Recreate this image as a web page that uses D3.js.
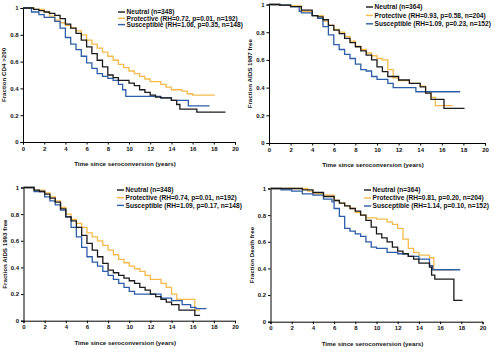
<!DOCTYPE html>
<html>
<head>
<meta charset="utf-8">
<script src="https://cdn.jsdelivr.net/npm/d3@7"></script>
<style>
  body { margin: 0; background: #fff; }
  svg { display: block; font-family: "Liberation Sans", Arial, sans-serif; font-weight: bold; }
</style>
</head>
<body>
<svg width="494" height="348"></svg>
<script>
// series: [years, fraction] breakpoints
const cd4Neutral = [[0,1],[1,0.99],[1.5,0.98],[2,0.97],[2.5,0.96],[3,0.945],[3.5,0.92],[4,0.88],[4.5,0.85],[5,0.81],[5.5,0.76],[6,0.71],[6.5,0.66],[7,0.61],[7.5,0.56],[8,0.5],[8.5,0.48],[9,0.46],[10,0.44],[10.5,0.42],[11,0.39],[11.5,0.37],[12,0.35],[12.5,0.335],[13,0.33],[14,0.31],[14.5,0.28],[14.8,0.245],[16.4,0.223],[19.1,0.223]];
const cd4Protective = [[0,1],[1,0.99],[2,0.97],[2.5,0.94],[3,0.91],[3.5,0.89],[4,0.87],[4.5,0.85],[5,0.83],[5.5,0.8],[6,0.76],[6.5,0.73],[7,0.7],[7.5,0.67],[8,0.64],[8.5,0.61],[9,0.58],[9.5,0.555],[10,0.53],[10.5,0.51],[11,0.49],[11.5,0.47],[12,0.45],[13,0.43],[13.5,0.41],[14,0.39],[15,0.38],[15.5,0.36],[16,0.35],[18.1,0.35]];
const cd4Susceptible = [[0,1],[0.8,0.97],[1.5,0.95],[2,0.93],[3,0.9],[3.5,0.85],[4,0.78],[4.5,0.73],[5,0.69],[5.5,0.64],[6,0.59],[6.5,0.55],[7,0.51],[7.5,0.49],[8,0.475],[8.5,0.46],[9,0.43],[9.4,0.39],[9.7,0.34],[12.5,0.34],[13,0.33],[14,0.31],[15.6,0.31],[15.6,0.27],[17.6,0.27]];

const a87Neutral = [[0,1],[1,0.995],[2,0.985],[3,0.96],[4,0.92],[4.5,0.91],[5,0.89],[5.5,0.85],[6,0.815],[6.5,0.79],[7,0.755],[7.5,0.725],[8,0.695],[8.5,0.665],[9,0.635],[9.5,0.6],[10,0.55],[10.5,0.515],[11,0.48],[12,0.455],[13,0.43],[14,0.405],[14.5,0.36],[15,0.315],[16.2,0.25],[18.1,0.25]];
const a87Protective = [[0,1],[1,0.995],[2,0.99],[3,0.95],[4,0.92],[5,0.88],[5.5,0.85],[6,0.82],[6.5,0.8],[7,0.77],[7.5,0.735],[8,0.7],[8.5,0.675],[9,0.65],[9.5,0.63],[10,0.61],[10.5,0.6],[11,0.53],[11.5,0.47],[12,0.45],[13,0.43],[14,0.41],[14.5,0.37],[15,0.33],[15.4,0.27],[17,0.27]];
const a87Susceptible = [[0,1],[1,0.995],[2,0.985],[2.8,0.95],[3,0.94],[4,0.92],[4.5,0.9],[5,0.84],[5.5,0.78],[6,0.71],[6.5,0.675],[7,0.64],[7.5,0.61],[8,0.57],[8.5,0.53],[9,0.52],[9.5,0.48],[10,0.46],[11,0.43],[11.5,0.4],[13.6,0.4],[13.6,0.37],[17.7,0.37]];

const a93Neutral = [[0,1],[1,0.98],[1.5,0.97],[2,0.95],[2.5,0.92],[3,0.89],[3.5,0.84],[4,0.78],[4.5,0.75],[5,0.7],[5.5,0.64],[6,0.58],[6.5,0.53],[7,0.48],[7.5,0.43],[8,0.38],[8.5,0.36],[9,0.34],[9.5,0.32],[10,0.3],[10.5,0.28],[11,0.25],[11.5,0.23],[12,0.2],[12.5,0.18],[13,0.16],[13.5,0.14],[14,0.12],[14.7,0.08],[16.2,0.08],[16.2,0.04],[16.7,0.04]];
const a93Protective = [[0,1],[1,0.98],[2,0.96],[2.5,0.93],[3,0.9],[3.5,0.85],[4,0.8],[4.5,0.76],[5,0.73],[5.5,0.7],[6,0.66],[6.5,0.63],[7,0.6],[7.5,0.565],[8,0.53],[8.5,0.495],[9,0.46],[9.5,0.435],[10,0.41],[10.5,0.39],[11,0.37],[11.5,0.34],[12,0.31],[13,0.28],[13.5,0.25],[14,0.2],[14.5,0.16],[16.2,0.16],[16.2,0.08],[16.7,0.08]];
const a93Susceptible = [[0,1],[1,0.97],[2,0.93],[2.5,0.9],[3,0.87],[3.5,0.83],[4,0.78],[4.5,0.7],[5,0.63],[5.5,0.55],[6,0.48],[6.5,0.44],[7,0.41],[7.5,0.37],[8,0.34],[8.5,0.31],[9,0.28],[9.5,0.25],[10,0.22],[10.5,0.2],[12,0.2],[13,0.17],[14,0.15],[15,0.12],[15.8,0.1],[16.3,0.09],[17.3,0.09]];

const deathNeutral = [[0,1],[2.5,1],[3,0.99],[4,0.97],[5,0.94],[6,0.91],[6.5,0.89],[7,0.87],[7.5,0.85],[8,0.83],[8.5,0.8],[9,0.76],[9.5,0.71],[10,0.66],[10.5,0.63],[11,0.6],[11.5,0.56],[12,0.53],[12.5,0.51],[13,0.49],[13.5,0.47],[14,0.44],[15,0.41],[15.2,0.35],[15.5,0.32],[17.3,0.32],[17.3,0.16],[18.1,0.16]];
const deathProtective = [[0,1],[3,1],[3.5,0.98],[4,0.96],[5,0.95],[6,0.91],[6.5,0.89],[7,0.87],[7.5,0.85],[8,0.82],[8.5,0.8],[9,0.78],[10,0.77],[11,0.75],[11.5,0.73],[12,0.7],[12.5,0.62],[13,0.55],[13.5,0.52],[14,0.5],[15,0.48],[15.4,0.39],[17.1,0.38]];
const deathSusceptible = [[0,1],[1,0.99],[2,0.98],[3,0.96],[4,0.95],[5,0.92],[5.8,0.9],[6,0.85],[6.5,0.79],[7,0.7],[7.5,0.68],[8,0.66],[8.5,0.64],[9,0.6],[9.5,0.56],[10,0.55],[11,0.52],[12,0.51],[13,0.49],[14,0.47],[15,0.42],[15.3,0.39],[17.9,0.39]];

const xTicks = [0, 2, 4, 6, 8, 10, 12, 14, 16, 18, 20];
const yTicks = [0, 0.2, 0.4, 0.6, 0.8, 1];
const colors = ["#1b1b1b", "#f5b94c", "#2d5da8"];

const panels = [
  { yTitle: "Fraction CD4 >200", series: [cd4Neutral, cd4Protective, cd4Susceptible],
    legend: ["Neutral (n=348)", "Protective (RH=0.72, p=0.01, n=192)", "Susceptible (RH=1.06, p=0.35, n=148)"],
    x0: 23, x1: 235, yTop: 8, yBot: 142, lx: 118, ly: 12, lstep: 6.3 },
  { yTitle: "Fraction AIDS 1987 free", series: [a87Neutral, a87Protective, a87Susceptible],
    legend: ["Neutral (n=364)", "Protective (RH=0.93, p=0.58, n=204)", "Susceptible (RH=1.09, p=0.23, n=152)"],
    x0: 269, x1: 485, yTop: 4.5, yBot: 143, lx: 366, ly: 7, lstep: 8.4 },
  { yTitle: "Fraction AIDS 1993 free", series: [a93Neutral, a93Protective, a93Susceptible],
    legend: ["Neutral (n=348)", "Protective (RH=0.74, p=0.01, n=192)", "Susceptible (RH=1.09, p=0.17, n=148)"],
    x0: 23.5, x1: 235, yTop: 187.5, yBot: 320.7, lx: 117, ly: 190, lstep: 7.7 },
  { yTitle: "Fraction Death free", series: [deathNeutral, deathProtective, deathSusceptible],
    legend: ["Neutral (n=364)", "Protective (RH=0.81, p=0.20, n=204)", "Susceptible (RH=1.14, p=0.10, n=152)"],
    x0: 270.5, x1: 482.5, yTop: 188.5, yBot: 321.7, lx: 364, ly: 190, lstep: 8 }
];

const svg = d3.select("svg");

panels.forEach(p => {
  const g = svg.append("g");

  const x = d3.scaleLinear().domain([0, 20]).range([p.x0, p.x1]);
  const y = d3.scaleLinear().domain([0, 1]).range([p.yBot, p.yTop]);

  // axes
  const xAxis = g.append("g")
    .attr("transform", `translate(0,${p.yBot})`)
    .call(d3.axisBottom(x).tickValues(xTicks).tickSize(2.5).tickPadding(2).tickFormat(d3.format("d")));
  const yAxis = g.append("g")
    .attr("transform", `translate(${p.x0},0)`)
    .call(d3.axisLeft(y).tickValues(yTicks).tickSize(2.5).tickPadding(2).tickFormat(d => d === 0 || d === 1 ? d : d3.format(".1f")(d)));
  [xAxis, yAxis].forEach(a => {
    a.select(".domain").attr("stroke", "#000").attr("stroke-width", 1);
    a.selectAll(".tick line").attr("stroke", "#000");
    a.selectAll("text").attr("font-size", 6).attr("font-family", null).attr("fill", "#111");
  });

  // curves
  const line = d3.line()
    .x(d => x(d[0]))
    .y(d => y(d[1]))
    .curve(d3.curveStepAfter);

  // orange, blue, then black on top
  [1, 2, 0].forEach(i => {
    g.append("path")
      .datum(p.series[i])
      .attr("fill", "none")
      .attr("stroke", colors[i])
      .attr("stroke-width", 1.3)
      .attr("d", line);
  });

  // titles
  g.append("text")
    .attr("x", (p.x0 + p.x1) / 2 - 4)
    .attr("y", p.yBot + 24)
    .attr("text-anchor", "middle")
    .attr("font-size", 6.2)
    .attr("fill", "#111")
    .text("Time since seroconversion (years)");
  g.append("text")
    .attr("transform", `translate(${p.x0 - 17},${(p.yTop + p.yBot) / 2}) rotate(-90)`)
    .attr("text-anchor", "middle")
    .attr("font-size", 6.2)
    .attr("fill", "#111")
    .text(p.yTitle);

  // legend
  p.legend.forEach((label, i) => {
    const ly = p.ly + i * p.lstep;
    g.append("line")
      .attr("x1", p.lx).attr("x2", p.lx + 7)
      .attr("y1", ly).attr("y2", ly)
      .attr("stroke", colors[i]).attr("stroke-width", 1.4);
    g.append("text")
      .attr("x", p.lx + 8.5)
      .attr("y", ly + 2.2)
      .attr("font-size", 6.6)
      .attr("fill", "#111")
      .text(label);
  });
});
</script>
</body>
</html>
